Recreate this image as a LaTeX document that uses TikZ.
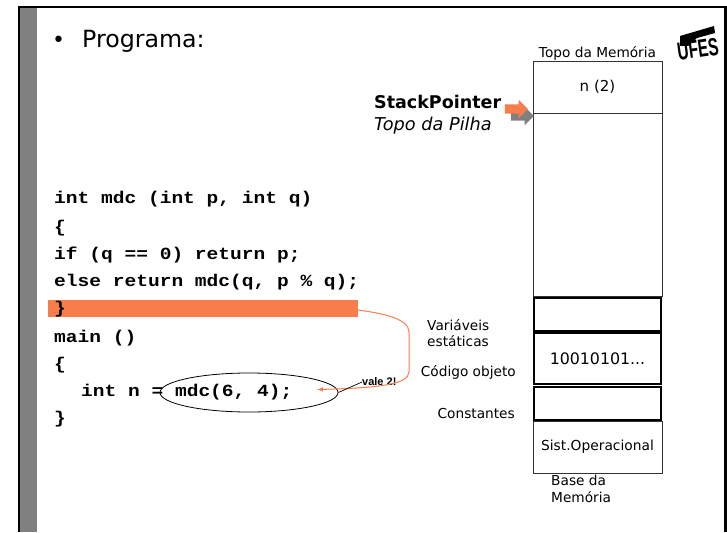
\documentclass[tikz,border=0pt]{standalone}
\usepackage{fontspec}
\setmainfont{DejaVu Sans}
\setsansfont{Liberation Sans}
\setmonofont[FakeStretch=1.15]{Liberation Mono}
\usetikzlibrary{shapes.geometric, shapes.arrows, arrows, positioning}

\begin{document}
\begin{tikzpicture}[x=1pt, y=-1pt]
  \tikzstyle{cell}=[rectangle, minimum width=129pt, inner sep=0pt, draw=black!80, line width=0.8pt, text centered, font=\fontsize{13.8pt}{16pt}\selectfont]
  \tikzstyle{strongcell}=[cell, draw=black, line width=1.3pt, minimum width=127pt]
  \tikzstyle{label}=[inner sep=0pt, align=left, font=\fontsize{13.7pt}{16.5pt}\selectfont]
  \tikzstyle{code}=[inner sep=0pt, anchor=base west, font=\fontsize{17pt}{19pt}\ttfamily\bfseries]
  \tikzstyle{pointer}=[single arrow, minimum height=23pt, minimum width=18pt, single arrow head extend=4.5pt, inner sep=4.5pt]
  \definecolor{slideorange}{RGB}{247,126,76}
  
  \useasboundingbox (0,0) rectangle (727,532);
  \fill [gray] (20,8) rectangle (37,532);
  \draw [line width=2.4pt] (19,532) -- (19,7) -- (725.5,7) -- (725.5,532);
  
  \node (bullet) [inner sep=0pt, anchor=base west, font=\fontsize{22pt}{24pt}\selectfont] at (52,48) {•};
  \node (title) [inner sep=0pt, anchor=base west, font=\fontsize{23.7pt}{26pt}\selectfont] at (82,47.5) {Programa:};
  
  % logotipo
  \fill [black] (680,36) -- (714,26) -- (715,33) -- (697,38) -- (688,46) -- (680,46) -- cycle;
  \node (logo) [inner sep=0pt, rotate=8, font=\fontsize{25pt}{26pt}\sffamily\bfseries] at (698,49) {\scalebox{0.62}[1]{UFES}};
  
  % pilha de memoria
  \node (stacktop) [cell, minimum height=52pt, font=\fontsize{15pt}{17pt}\selectfont] at (597.5,87) {n (2)};
  \node (stackfree) [cell, minimum height=183pt, below=0pt of stacktop] {};
  \node (statics) [strongcell, minimum height=33pt] at (597.5,314.5) {};
  \node (object) [strongcell, minimum height=51pt, font=\fontsize{15.8pt}{18pt}\selectfont] at (597.5,358.5) {10010101...};
  \node (constants) [strongcell, minimum height=33pt] at (597.5,403.5) {};
  \node (system) [cell, minimum height=52pt] at (597.5,447) {Sist.Operacional};
  
  \node (toplabel) [label, above=0.5pt of stacktop] {Topo da Memória};
  \node (baselabel) [label, anchor=north west] at (551,475) {Base da\\Memória};
  \node (staticslabel) [label, anchor=west] at (427,333) {Variáveis\\estáticas};
  \node (objectlabel) [label, anchor=east] at (516,372) {Código objeto};
  \node (constantslabel) [label, anchor=east] at (515,414) {Constantes};
  
  \node (stackpointer) [inner sep=0pt, anchor=base west, font=\fontsize{17.5pt}{20pt}\selectfont\bfseries] at (374,109) {StackPointer};
  \node (stacknote) [inner sep=0pt, anchor=base west, font=\fontsize{17.7pt}{20pt}\selectfont\itshape] at (374,130) {Topo da Pilha};
  \node (shadow) [pointer, fill=gray] at (520,116) {};
  \node (arrow) [pointer, fill=slideorange] at (514,109) {};
  
  % programa
  \fill [slideorange] (48,300) rectangle (358,317);
  \node (line1) [code] at (54,203.5) {int mdc (int p, int q)};
  \node (line2) [code] at (54,232) {\{};
  \node (line3) [code] at (54,259) {if (q == 0) return p;};
  \node (line4) [code] at (54,286) {else return mdc(q, p \% q);};
  \node (line5) [code] at (54,313) {\}};
  \node (line6) [code] at (54,342) {main ()};
  \node (line7) [code] at (54,369) {\{};
  \node (line8) [code] at (81,396) {int n = mdc(6, 4);};
  \node (line9) [code] at (54,423) {\}};
  
  \node (call) [ellipse, draw=black, line width=0.8pt, minimum width=178pt, minimum height=39pt, inner sep=0pt] at (249,392.5) {};
  \coordinate (endbar) at (358,310);
  \coordinate (callpoint) at (317,389.5);
  \node (result) [inner sep=0pt, font=\fontsize{11pt}{12pt}\sffamily\bfseries, anchor=west] at (362,382) {vale 2!};
  
  \draw [slideorange, line width=1pt, -latex] (endbar) .. controls (380,313) and (409,318) .. (409,332) -- (409,372) .. controls (409,385) and (375,388) .. (callpoint);
  \draw [line width=0.7pt] (result.west) -- (call.east);
\end{tikzpicture}
\end{document}
